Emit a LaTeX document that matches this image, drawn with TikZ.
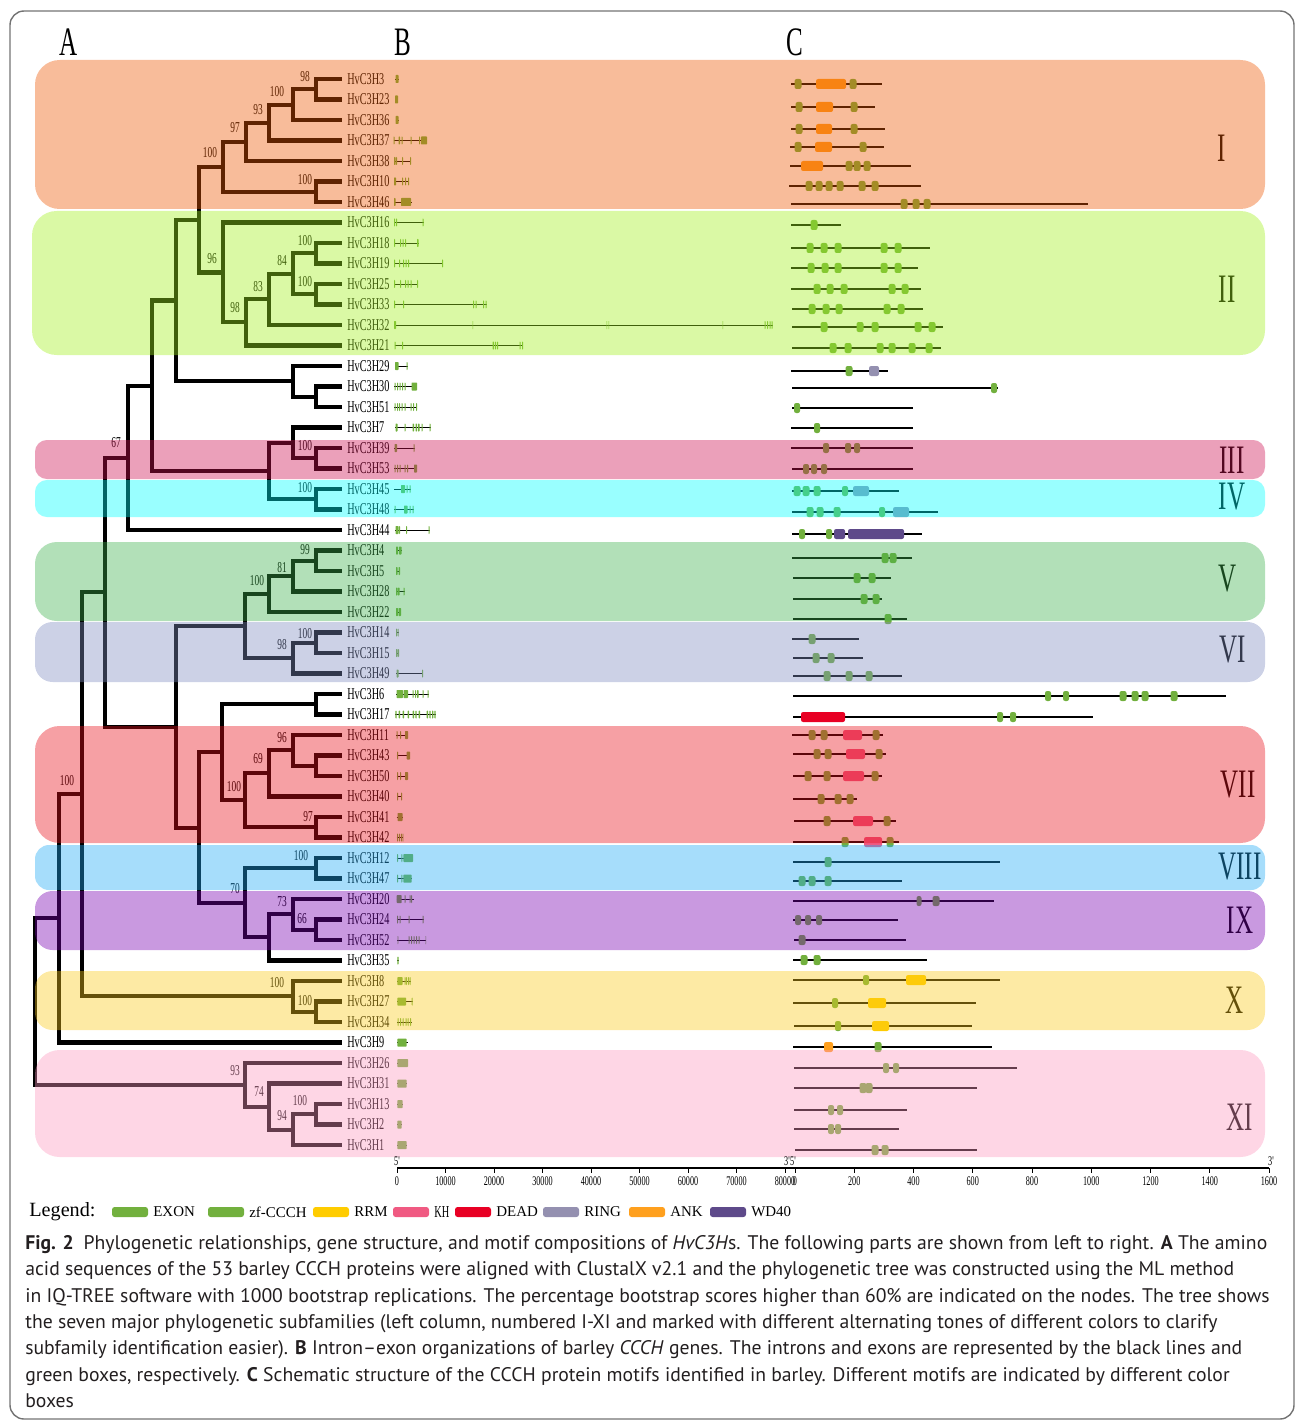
\documentclass[tikz,border=0pt]{standalone}
\usepackage{fontspec}
\setmainfont{Liberation Serif}
\newfontfamily\narrowfont[FakeStretch=0.62]{Liberation Serif}
\newfontfamily\capfont{PT Sans}

\definecolor{exonc}{RGB}{114,176,62}
\definecolor{zfc}{RGB}{114,176,62}
\definecolor{rrmc}{RGB}{255,204,0}
\definecolor{khc}{RGB}{240,90,130}
\definecolor{deadc}{RGB}{232,0,36}
\definecolor{ringc}{RGB}{148,144,176}
\definecolor{ankc}{RGB}{255,160,30}
\definecolor{wdc}{RGB}{94,74,138}
\definecolor{bandI}{RGB}{238,88,3}
\definecolor{bandII}{RGB}{162,240,30}
\definecolor{bandIII}{RGB}{205,17,82}
\definecolor{bandIV}{RGB}{0,255,255}
\definecolor{bandV}{RGB}{62,177,77}
\definecolor{bandVI}{RGB}{127,140,192}
\definecolor{bandVII}{RGB}{232,17,27}
\definecolor{bandVIII}{RGB}{32,170,245}
\definecolor{bandIX}{RGB}{120,0,177}
\definecolor{bandX}{RGB}{250,202,27}
\definecolor{bandXI}{RGB}{252,152,190}
\definecolor{capgray}{RGB}{35,31,32}

\begin{document}
\begin{tikzpicture}[x=0.02cm, y=-0.02cm,
  branch/.style={line width=2.3pt},
  gname/.style={anchor=west, inner sep=0pt, font=\narrowfont\fontsize{9.4}{10}\selectfont},
  boot/.style={inner sep=0pt, font=\narrowfont\fontsize{8.6}{9}\selectfont},
  roman/.style={inner sep=0pt, font=\narrowfont\fontsize{23}{24}\selectfont},
  panel/.style={inner sep=0pt, font=\narrowfont\fontsize{23}{24}\selectfont},
  intron/.style={line width=0.5pt},
  prot/.style={line width=0.7pt},
  band/.style={fill opacity=0.4},
  ticklab/.style={inner sep=0pt, font=\narrowfont\fontsize{7.5}{8}\selectfont},
  legtext/.style={anchor=west, inner sep=0pt, font=\fontsize{8.5}{9}\selectfont}]
  \useasboundingbox (0,0) rectangle (1295,1422);
  \draw[black!55, line width=0.8pt, rounded corners=8pt] (10,11) rectangle (1294,1419);

  \node[panel] (panelA) at (69,42) {A};
  \node[panel] (panelB) at (403,42) {B};
  \node[panel] (panelC) at (795,42) {C};

  % leaves
  \foreach \g [count=\i from 0] in {3,23,36,37,38,10,46,16,18,19,25,33,32,21,29,30,51,7,39,53,45,48,44,4,5,28,22,14,15,49,6,17,11,43,50,40,41,42,12,47,20,24,52,35,8,27,34,9,26,31,13,2,1}
  {
    \coordinate (t\g) at (342,{79+20.5*\i});
    \node[gname] (HvC3H\g) at (347,{79+20.5*\i}) {HvC3H\g};
  }

  % inner nodes of the tree
  \coordinate (a1) at (316,89.25);  \coordinate (a2) at (293,104.6);
  \coordinate (a3) at (269,122.6);  \coordinate (a4) at (246,141.8);
  \coordinate (a5) at (316,191.75); \coordinate (a6) at (223,166.8);
  \coordinate (b1) at (316,253.25); \coordinate (b2) at (316,294.25);
  \coordinate (b3) at (293,273.75); \coordinate (b4) at (269,299.4);
  \coordinate (b5) at (246,322.4);  \coordinate (b6) at (223,272.5);
  \coordinate (c1) at (199,219.6);
  \coordinate (d1) at (316,396.75); \coordinate (d2) at (293,381.4);
  \coordinate (c2) at (176,300.5);
  \coordinate (e1) at (316,458.25); \coordinate (e2) at (293,442.9);
  \coordinate (e3) at (316,499.25); \coordinate (e4) at (269,471.1);
  \coordinate (c3) at (152,385.8);  \coordinate (c4) at (128,457.9);
  \coordinate (f1) at (316,560.75); \coordinate (f2) at (293,576.1);
  \coordinate (f3) at (269,594.1);  \coordinate (g1) at (316,642.75);
  \coordinate (g2) at (293,658.1);  \coordinate (f4) at (245,626.1);
  \coordinate (h0) at (316,704.25); \coordinate (h1) at (316,765.75);
  \coordinate (h2) at (293,750.4);  \coordinate (h3) at (269,773.4);
  \coordinate (h4) at (316,827.25); \coordinate (h5) at (245,800.3);
  \coordinate (h6) at (222,752.3);
  \coordinate (i1) at (316,868.25); \coordinate (i2) at (316,929.75);
  \coordinate (i3) at (293,914.4);  \coordinate (i4) at (269,937.4);
  \coordinate (i5) at (245,902.8);
  \coordinate (c5) at (199,827.6);  \coordinate (c6) at (176,726.8);
  \coordinate (c7) at (105,592.4);
  \coordinate (j1) at (316,1011.75); \coordinate (j2) at (293,996.4);
  \coordinate (c8) at (82,794.4);   \coordinate (c9) at (59,918.4);
  \coordinate (k1) at (316,1114.25); \coordinate (k2) at (293,1129.6);
  \coordinate (k3) at (269,1106.6); \coordinate (k4) at (245,1084.8);
  \coordinate (root) at (35,1001.6);

  \foreach \p/\c in {a1/t3,a1/t23,a2/a1,a2/t36,a3/a2,a3/t37,a4/a3,a4/t38,a5/t10,a5/t46,a6/a4,a6/a5,
    b1/t18,b1/t19,b2/t25,b2/t33,b3/b1,b3/b2,b4/b3,b4/t32,b5/b4,b5/t21,b6/t16,b6/b5,c1/a6,c1/b6,
    d1/t30,d1/t51,d2/t29,d2/d1,c2/c1,c2/d2,
    e1/t39,e1/t53,e2/t7,e2/e1,e3/t45,e3/t48,e4/e2,e4/e3,c3/c2,c3/e4,c4/c3,c4/t44,
    f1/t4,f1/t5,f2/f1,f2/t28,f3/f2,f3/t22,g1/t14,g1/t15,g2/g1,g2/t49,f4/f3,f4/g2,
    h0/t6,h0/t17,h1/t43,h1/t50,h2/t11,h2/h1,h3/h2,h3/t40,h4/t41,h4/t42,h5/h3,h5/h4,h6/h0,h6/h5,
    i1/t12,i1/t47,i2/t24,i2/t52,i3/t20,i3/i2,i4/i3,i4/t35,i5/i1,i5/i4,c5/h6,c5/i5,c6/f4,c6/c5,c7/c4,c7/c6,
    j1/t27,j1/t34,j2/t8,j2/j1,c8/c7,c8/j2,c9/c8,c9/t9,
    k1/t13,k1/t2,k2/k1,k2/t1,k3/t31,k3/k2,k4/t26,k4/k3,root/c9,root/k4}
    \draw[branch] (\p) |- (\c);

  % bootstrap values
  \foreach \x/\y/\v [count=\n] in {305/77/98,277/92/100,258/110/93,235/128/97,210/153/100,305/180/100,
    212/259/96,305/241/100,282/261/84,305/282/100,258/287/83,235/308/98,305/446/100,305/488/100,
    116/443/67,305/550/99,282/568/81,257/581/100,305/634/100,282/645/98,282/738/96,258/759/69,
    234/787/100,308/817/97,301/856/100,235/889/70,282/902/73,302/919/66,277/983/100,305/1001/100,
    67/781/100,235/1071/93,259/1092/74,282/1116/94,300/1101/100}
    \node[boot] (bs\n) at (\x,\y) {\v};

  % gene structures
  \foreach \y/\s/\e/\ex in {79/395/399/{395.5/398.5},99.5/395/398/{395/398},120/395.5/398.5/{395.5/398.5},
    140.5/393.5/427/{393.5/394.5,398.5/400,401.5/402.5,410.5/411.5,419/420,421/427},
    161/394/411/{394/395.5,396/397,402/403,410/411},
    181.5/394/409/{394/396,402/403,405/406,408/409},
    202/394/412/{394/395.5,401/411},
    222.5/394/423.5/{394/395,396/397,422.5/423.5},
    243/394/418.5/{394/395,400/401,402.5/403.5,405/406,417/418.5},
    263.5/394/443/{394/395,399/400,403/404,405.5/406.5,408/409,442/443},
    284/394/418/{394/395,400/401,405/406,407.5/408.5,410.5/411.5,417/418},
    304.5/394/487/{394/395,403/404,473/474,475.5/476.5,483/484,485.5/486.5},
    325/394/772.5/{394/396,472.5/473.2,606.5/607.2,608.5/609.2,722.5/723.2,764.5/765.5,767/768,769.5/770.5,771.5/772.5},
    345.5/394.5/523/{394.5/395.5,402/403,492.5/494,495/496,497/498,519.5/520.5,522/523},
    366/395/407.5/{395/398.5,406.5/407.5},
    386.5/394/417/{394.5/395.5,397/398,399.5/400.5,402/403,404.5/405.5,411.5/417},
    407/394/417/{394.5/395.5,397/398,399/400,401.5/402.5,404.5/405.5,410.5/411.5,413/414,416/417},
    427.5/395/431/{395.5/397.5,404.5/405.5,412.5/414,415.5/417,418/419.5,421.5/422.5,429.5/430.5},
    448/394/414.5/{394.5/397,413.5/414.5},
    468.5/394/417/{394.5/395.5,397/398,399.5/400.5,404.5/405.5,407/408,414/417},
    489/394/411/{401/405,406.5/407.5,409.5/410.5},
    509.5/394/413.5/{394.5/395.5,404/407.5,409.5/410.5,412.5/413.5},
    530/395/429.5/{395.5/398.5,399/400,406/407,428.5/429.5},
    550.5/396/401.5/{396/398,399/401.5},
    571/396/400/{396/397.5,398.5/400},
    591.5/396/404.5/{396/397.5,398/399.5,403.5/404.5},
    612/396/401/{396/398,398.5/401},
    632.5/396/398.7/{396/397,397.7/398.7},
    653/396/399/{396/397.5,397.8/399},
    673.5/396/423/{396.5/398.5,422/423},
    694/396/428.5/{396.5/403,403.5/408,412.5/413.5,415/416,417/418.5,422.5/423.5,427.5/428.5},
    714.5/395/436/{395.3/396.7,398.6/400,402.6/404,407.6/409,412.6/414,415.3/416.7,418.6/420,426.6/428,429.3/430.7,432/433.4,434.3/435.7},
    735/396/408/{396.5/397.5,400/401,405/408},
    755.5/396.7/410/{397/398,406.7/410},
    776/396.7/408/{397/398,400/401,405/408},
    796.5/397/402/{397/398,401/402},
    817/396.7/403/{397.5/402.5},
    837.5/396.7/403.3/{397/398,399/400,401/402,402.7/403.3},
    858/396.7/413/{397/398,401.3/402.3,403.3/413},
    878.5/396.7/412/{397/398,401.3/402.3,403.3/411.7},
    899/396.7/413.5/{396.7/401.7,404.5/405.5,409.5/410.5,411.2/412.2},
    919.5/396.7/423.5/{397/398,399.5/400.5,408.5/409.5,422.5/423.5},
    940/397.3/426/{397.5/398.3,408.5/409.5,411/412,413.5/414.5,416/417,418.5/419.5,425.5/426},
    960.5/397.3/398.5/{397.3/398.5},
    981/397.3/410.7/{397.3/402.5,404.5/405.5,406/407,408/409,409.7/410.7},
    1001.5/397.3/412.7/{397.3/406,411.7/412.7},
    1022/397.3/411.7/{397.6/398.6,400/401,402.7/403.7,405.5/406.5,407.7/408.7,410/411},
    1042.5/397.3/407.7/{397.3/406.7},
    1063/397.3/408/{397.3/408},
    1083.5/397.3/406.7/{397.3/406.7},
    1104/397.3/402.7/{397.3/402.7},
    1124.5/397.3/401.7/{397.3/401.7},
    1145/397.3/406.7/{397.3/406.7}}
  {
    \draw[intron] (\s,\y) -- (\e,\y);
    \foreach \a/\b in \ex
      \fill[exonc, rounded corners=0.4pt] (\a,{\y-4}) rectangle (\b,{\y+4});
  }

  % protein motifs
  \foreach \y/\s/\e/\bx in {84/791/882/{798/7/zfc,831/30/ankc,853/7/zfc},
    107/791/875/{799/7/zfc,824.5/17/ankc,854/7/zfc},
    129/791/885/{799/7/zfc,824/16/ankc,854/7/zfc},
    147/790/884/{798/7/zfc,823.5/17/ankc,863/7/zfc},
    166/790/911/{812/22/ankc,849/7/zfc,857/7/zfc,867/7/zfc},
    186/789/921/{809/7/zfc,819/7/zfc,829/7/zfc,840/7/zfc,862/7/zfc,875/7/zfc},
    204/791/1088/{904/7/zfc,916/7/zfc,927/7/zfc},
    225/791/841/{814/7/zfc},
    248/791/930/{810/7/zfc,824/7/zfc,838/7/zfc,884/7/zfc,898/7/zfc},
    268/791/918/{811/7/zfc,825/7/zfc,838/7/zfc,884/7/zfc,898/7/zfc},
    289/791/921/{817/7/zfc,830/7/zfc,844/7/zfc,892/7/zfc,905/7/zfc},
    309/792/923/{812/7/zfc,826/7/zfc,839/7/zfc,887/7/zfc,901/7/zfc},
    327/792/943/{824/7/zfc,860/7/zfc,875/7/zfc,918/7/zfc,932/7/zfc},
    348/792/941/{833/7/zfc,848/7/zfc,880/7/zfc,892/7/zfc,912/7/zfc,929/7/zfc},
    371/791/888/{849/7/zfc,874/10/ringc},
    388/792/998/{994/6/zfc},
    408/792/913/{797/6/zfc},
    428/791/913/{817/6/zfc},
    448/791/913/{826/6/zfc,848/6/zfc,857/6/zfc},
    469/792/913/{806/6/zfc,814/6/zfc,824/6/zfc},
    491/792/899/{797/7/zfc,806/7/zfc,817/7/zfc,845/6/zfc,861/16/ringc},
    512/792/938/{810/7/zfc,820/7/zfc,837/7/zfc,882/6/zfc,901/16/ringc},
    534/792/922/{802/6/zfc,829/6/zfc,839.5/11/wdc,876/56/wdc},
    558/792/912/{885/7/zfc,893/7/zfc},
    578/793/891/{857/7/zfc,872/7/zfc},
    599/793/882/{864/7/zfc,876/7/zfc},
    619/793/907/{888/7/zfc},
    639/792/859/{812/7/zfc},
    658/793/863/{816/7/zfc,831/7/zfc},
    676/793/902/{827/7/zfc,849/7/zfc,869/7/zfc},
    696/793/1226/{1048/6/zfc,1066/6/zfc,1123/7/zfc,1135/7/zfc,1145/7/zfc,1174/7/zfc},
    717/793/1093/{823/44/deadc,1000/6/zfc,1013/6/zfc},
    735/792/883/{812/7/zfc,824/7/zfc,852.5/19/khc,876/7/zfc},
    754/793/886/{817/7/zfc,828/7/zfc,855.5/19/khc,879/7/zfc},
    776/793/882/{808/7/zfc,827/7/zfc,853.5/21/khc,875/7/zfc},
    799/793/857/{821/7/zfc,838/7/zfc,850/7/zfc},
    821/794/896/{827/7/zfc,863/20/khc,887/7/zfc},
    842/793/899/{845/7/zfc,873/18/khc,890/7/zfc},
    862/793/1000/{828/7/zfc},
    881/793/902/{802/7/zfc,812/7/zfc,828/7/zfc},
    901/793/994/{919/5/zfc,936/7/zfc},
    920/793/898/{798/6/zfc,808/6/zfc,819/6/zfc},
    940/794/906/{802/7/zfc},
    960/793/927/{804/7/zfc,817/7/zfc},
    980/793/1000/{866/6/zfc,916/20/rrmc},
    1003/793/976/{835/6/zfc,877/18/rrmc},
    1026/794/972/{838/6/zfc,880.5/17/rrmc},
    1047/793/992/{828.5/9/ankc,878/7/zfc},
    1068/794/1017/{886/6/zfc,896/6/zfc},
    1088/794/977/{863/7/zfc,869/7/zfc},
    1110/794/907/{831/6/zfc,840/6/zfc},
    1129/794/899/{831/6/zfc,838/6/zfc},
    1150/795/977/{875/7/zfc,885/7/zfc}}
  {
    \draw[prot] (\s,\y) -- (\e,\y);
    \foreach \c/\w/\col in \bx
      \fill[\col, rounded corners=1.2pt] ({\c-\w/2},{\y-5}) rectangle ({\c+\w/2},{\y+5});
  }

  % subfamily numerals
  \foreach \x/\y/\r in {1222/148/I,1227/289/II,1232/460/III,1232/497/IV,1228/579/V,1233/650/VI,
    1238/785/VII,1240/867/VIII,1240/920/IX,1235/1000/X,1240/1117/XI}
    \node[roman] (num\r) at (\x,\y) {\r};

  % subfamily bands
  \fill[bandI, band, rounded corners=14pt] (35,60) rectangle (1265,209);
  \fill[bandII, band, rounded corners=14pt] (32,211) rectangle (1265,355);
  \fill[bandIII, band, rounded corners=6.8pt] (35,440) rectangle (1265,479);
  \fill[bandIV, band, rounded corners=6.8pt] (35,480) rectangle (1265,517);
  \fill[bandV, band, rounded corners=12.5pt] (35,542) rectangle (1265,621);
  \fill[bandVI, band, rounded corners=10pt] (35,622) rectangle (1265,682);
  \fill[bandVII, band, rounded corners=14pt] (35,726) rectangle (1265,843);
  \fill[bandVIII, band, rounded corners=8pt] (35,845) rectangle (1265,890);
  \fill[bandIX, band, rounded corners=10pt] (35,891) rectangle (1265,950);
  \fill[bandX, band, rounded corners=10pt] (35,971) rectangle (1265,1030);
  \fill[bandXI, band, rounded corners=14pt] (35,1050) rectangle (1265,1157);

  % scales
  \draw[line width=0.6pt] (397,1168) -- (1269,1168);
  \foreach \v [count=\n from 0] in {0,10000,20000,30000,40000,50000,60000,70000,80000}
  {
    \draw[line width=0.5pt] ({397+48.5*\n},1168) -- ({397+48.5*\n},1173);
    \node[ticklab] (gs\n) at ({397+48.5*\n},1181) {\v};
  }
  \foreach \v [count=\n from 0] in {0,200,400,600,800,1000,1200,1400,1600}
  {
    \draw[line width=0.5pt] ({795+59.25*\n},1168) -- ({795+59.25*\n},1173);
    \node[ticklab] (ps\n) at ({795+59.25*\n},1181) {\v};
  }
  \node[ticklab] (fiveB) at (397,1161) {5'};
  \node[ticklab] (threeB) at (787,1161) {3'};
  \node[ticklab] (fiveC) at (793,1161) {5'};
  \node[ticklab] (threeC) at (1271,1161) {3'};

  % legend
  \node[anchor=west, inner sep=0pt, font=\fontsize{11.5}{12}\selectfont] (legend) at (29,1212) {Legend:};
  \foreach \x/\col/\lab [count=\n] in {112/zfc/EXON,208/zfc/zf-CCCH,313/rrmc/RRM,393/khc/{\narrowfont\fontsize{9.5}{10}\selectfont KH},
    455/deadc/DEAD,543/ringc/RING,629/ankc/ANK,710/wdc/WD40}
  {
    \fill[\col, rounded corners=1.5pt] (\x,1207) rectangle ({\x+36},1217);
    \node[legtext] (leg\n) at ({\x+41},1212) {\lab};
  }

  % caption
  \node[anchor=north west, align=left, inner sep=0pt, text=capgray,
    font=\capfont\fontsize{11.2}{15}\selectfont] (caption) at (25,1235)
  {\textbf{Fig. 2}\enspace Phylogenetic relationships, gene structure, and motif compositions of \textit{HvC3H}s. The following parts are shown from left to right. \textbf{A} The amino\\
   acid sequences of the 53 barley CCCH proteins were aligned with ClustalX v2.1 and the phylogenetic tree was constructed using the ML method\\
   in IQ-TREE software with 1000 bootstrap replications. The percentage bootstrap scores higher than 60\% are indicated on the nodes. The tree shows\\
   the seven major phylogenetic subfamilies (left column, numbered I-XI and marked with different alternating tones of different colors to clarify\\
   subfamily identification easier). \textbf{B} Intron–exon organizations of barley \textit{CCCH} genes. The introns and exons are represented by the black lines and\\
   green boxes, respectively. \textbf{C} Schematic structure of the CCCH protein motifs identified in barley. Different motifs are indicated by different color\\
   boxes};
\end{tikzpicture}
\end{document}
